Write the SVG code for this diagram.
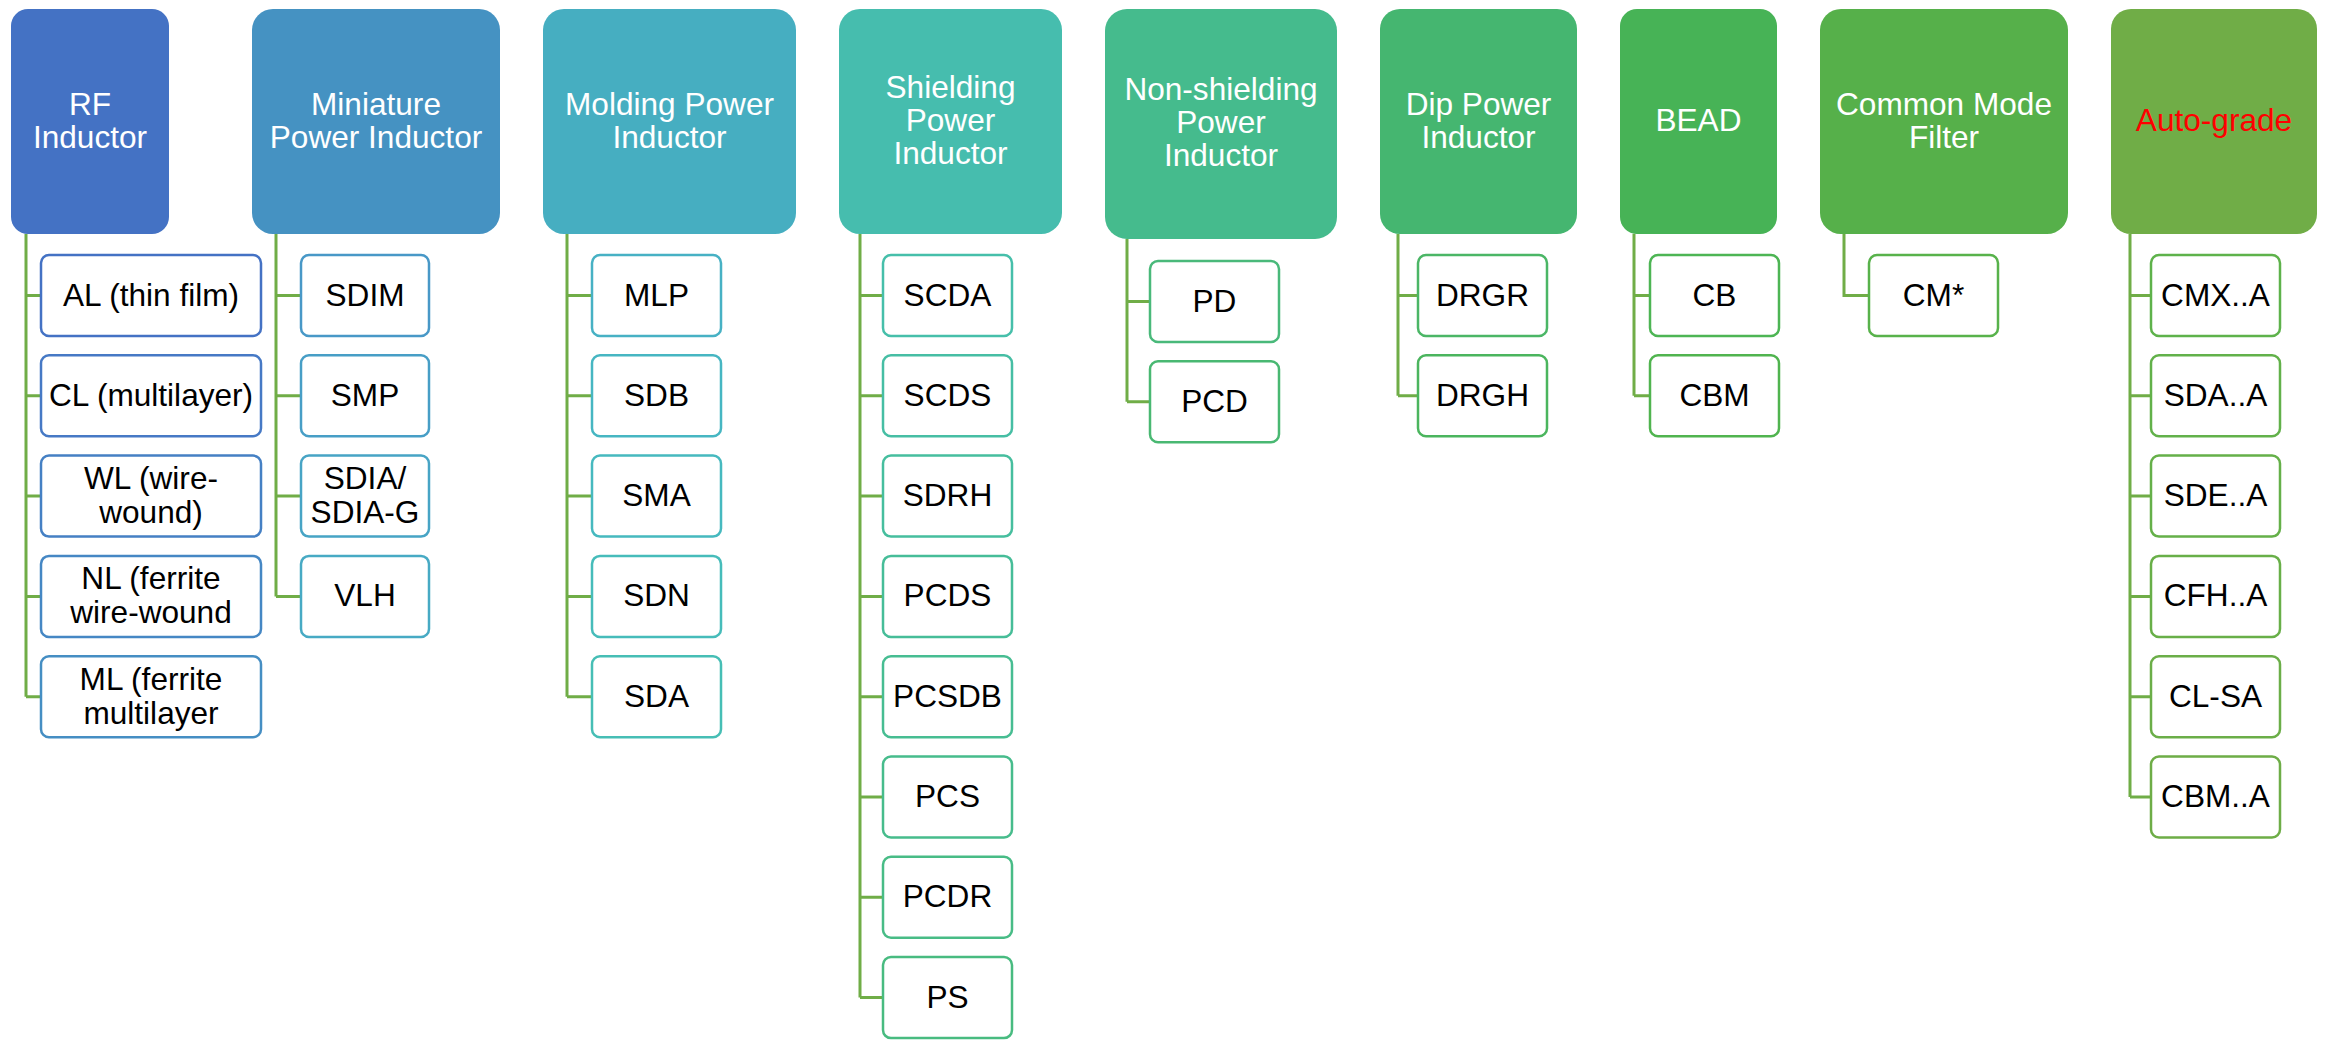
<svg xmlns="http://www.w3.org/2000/svg" width="2331" height="1044" viewBox="0 0 2331 1044">
<style>
.hd text{font-family:"Liberation Sans",Arial,sans-serif;font-size:31.6px;fill:#fff;text-anchor:middle}
.ch rect{fill:#fff;stroke-width:2.5}
.ch text{font-family:"Liberation Sans",Arial,sans-serif;font-size:31.6px;fill:#000;text-anchor:middle}
#connectors path{fill:none;stroke:#70AD47;stroke-width:3}
</style>
<rect width="2331" height="1044" fill="#fff"/>
<g id="connectors">
<path d="M26,234V696.7M26,295.5H41M26,395.8H41M26,496.1H41M26,596.4H41M26,696.7H41"/>
<path d="M276,234V596.4M276,295.5H301M276,395.8H301M276,496.1H301M276,596.4H301"/>
<path d="M567,234V696.7M567,295.5H592M567,395.8H592M567,496.1H592M567,596.4H592M567,696.7H592"/>
<path d="M860,234V997.6M860,295.5H883M860,395.8H883M860,496.1H883M860,596.4H883M860,696.7H883M860,797H883M860,897.3H883M860,997.6H883"/>
<path d="M1127,239V401.8M1127,301.5H1150M1127,401.8H1150"/>
<path d="M1398,234V395.8M1398,295.5H1418M1398,395.8H1418"/>
<path d="M1634,234V395.8M1634,295.5H1650M1634,395.8H1650"/>
<path d="M1844,234V295.5H1869"/>
<path d="M2130,234V797M2130,295.5H2151M2130,395.8H2151M2130,496.1H2151M2130,596.4H2151M2130,696.7H2151M2130,797H2151"/>
</g>

<g id="rf">
<g class="hd"><rect x="11" y="9" width="158" height="225" rx="17" fill="#4472C4"/><text x="90" y="115">RF</text><text x="90" y="148">Inductor</text></g>
<g class="ch" id="rf-al"><rect x="41" y="255" width="220" height="81" rx="8" stroke="#4472C4"/><text x="151" y="305.5">AL (thin film)</text></g>
<g class="ch" id="rf-cl"><rect x="41" y="355.3" width="220" height="81" rx="8" stroke="#4679C5"/><text x="151" y="405.8">CL (multilayer)</text></g>
<g class="ch" id="rf-wl"><rect x="41" y="455.6" width="220" height="81" rx="8" stroke="#4580C4"/><text x="151" y="489">WL (wire-</text><text x="151" y="523">wound)</text></g>
<g class="ch" id="rf-nl"><rect x="41" y="555.9" width="220" height="81" rx="8" stroke="#4587C4"/><text x="151" y="589.4">NL (ferrite</text><text x="151" y="623.4">wire-wound</text></g>
<g class="ch" id="rf-ml"><rect x="41" y="656.2" width="220" height="81" rx="8" stroke="#458EC3"/><text x="151" y="689.7">ML (ferrite</text><text x="151" y="723.7">multilayer</text></g>
</g>

<g id="miniature">
<g class="hd"><rect x="252" y="9" width="248" height="225" rx="21" fill="#4592C2"/><text x="376" y="115">Miniature</text><text x="376" y="148">Power Inductor</text></g>
<g class="ch" id="mi-sdim"><rect x="301" y="255" width="128" height="81" rx="8" stroke="#4898C7"/><text x="365" y="305.5">SDIM</text></g>
<g class="ch" id="mi-smp"><rect x="301" y="355.3" width="128" height="81" rx="8" stroke="#479EC6"/><text x="365" y="405.8">SMP</text></g>
<g class="ch" id="mi-sdia"><rect x="301" y="455.6" width="128" height="81" rx="8" stroke="#47A4C5"/><text x="365" y="489">SDIA/</text><text x="365" y="523">SDIA-G</text></g>
<g class="ch" id="mi-vlh"><rect x="301" y="555.9" width="128" height="81" rx="8" stroke="#47AAC4"/><text x="365" y="606.4">VLH</text></g>
</g>

<g id="molding">
<g class="hd"><rect x="543" y="9" width="253" height="225" rx="21" fill="#46AEC1"/><text x="669.5" y="115">Molding Power</text><text x="669.5" y="148">Inductor</text></g>
<g class="ch" id="mo-mlp"><rect x="592" y="255" width="129" height="81" rx="8" stroke="#47B1C4"/><text x="656.5" y="305.5">MLP</text></g>
<g class="ch" id="mo-sdb"><rect x="592" y="355.3" width="129" height="81" rx="8" stroke="#46B6C2"/><text x="656.5" y="405.8">SDB</text></g>
<g class="ch" id="mo-sma"><rect x="592" y="455.6" width="129" height="81" rx="8" stroke="#46B9BF"/><text x="656.5" y="506.1">SMA</text></g>
<g class="ch" id="mo-sdn"><rect x="592" y="555.9" width="129" height="81" rx="8" stroke="#46BCBA"/><text x="656.5" y="606.4">SDN</text></g>
<g class="ch" id="mo-sda"><rect x="592" y="656.2" width="129" height="81" rx="8" stroke="#46BEB5"/><text x="656.5" y="706.7">SDA</text></g>
</g>

<g id="shielding">
<g class="hd"><rect x="839" y="9" width="223" height="225" rx="21" fill="#46BDAE"/><text x="950.5" y="98">Shielding</text><text x="950.5" y="131">Power</text><text x="950.5" y="164">Inductor</text></g>
<g class="ch" id="sh-scda"><rect x="883" y="255" width="129" height="81" rx="8" stroke="#46BFAA"/><text x="947.5" y="305.5">SCDA</text></g>
<g class="ch" id="sh-scds"><rect x="883" y="355.3" width="129" height="81" rx="8" stroke="#46BEA4"/><text x="947.5" y="405.8">SCDS</text></g>
<g class="ch" id="sh-sdrh"><rect x="883" y="455.6" width="129" height="81" rx="8" stroke="#46BE9E"/><text x="947.5" y="506.1">SDRH</text></g>
<g class="ch" id="sh-pcds"><rect x="883" y="555.9" width="129" height="81" rx="8" stroke="#46BD98"/><text x="947.5" y="606.4">PCDS</text></g>
<g class="ch" id="sh-pcsdb"><rect x="883" y="656.2" width="129" height="81" rx="8" stroke="#47BD92"/><text x="947.5" y="706.7">PCSDB</text></g>
<g class="ch" id="sh-pcs"><rect x="883" y="756.5" width="129" height="81" rx="8" stroke="#47BC8C"/><text x="947.5" y="807">PCS</text></g>
<g class="ch" id="sh-pcdr"><rect x="883" y="856.8" width="129" height="81" rx="8" stroke="#48BC86"/><text x="947.5" y="907.3">PCDR</text></g>
<g class="ch" id="sh-ps"><rect x="883" y="957.1" width="129" height="81" rx="8" stroke="#48BB80"/><text x="947.5" y="1007.6">PS</text></g>
</g>

<g id="nonshielding">
<g class="hd"><rect x="1105" y="9" width="232" height="230" rx="22" fill="#45BB8D"/><text x="1221" y="100">Non-shielding</text><text x="1221" y="133">Power</text><text x="1221" y="166">Inductor</text></g>
<g class="ch" id="ns-pd"><rect x="1150" y="261" width="129" height="81" rx="8" stroke="#49B97A"/><text x="1214.5" y="311.5">PD</text></g>
<g class="ch" id="ns-pcd"><rect x="1150" y="361.3" width="129" height="81" rx="8" stroke="#49B872"/><text x="1214.5" y="411.8">PCD</text></g>
</g>

<g id="dip">
<g class="hd"><rect x="1380" y="9" width="197" height="225" rx="20" fill="#45B670"/><text x="1478.5" y="115">Dip Power</text><text x="1478.5" y="148">Inductor</text></g>
<g class="ch" id="dip-drgr"><rect x="1418" y="255" width="129" height="81" rx="8" stroke="#4BB666"/><text x="1482.5" y="305.5">DRGR</text></g>
<g class="ch" id="dip-drgh"><rect x="1418" y="355.3" width="129" height="81" rx="8" stroke="#4BB55E"/><text x="1482.5" y="405.8">DRGH</text></g>
</g>

<g id="bead">
<g class="hd"><rect x="1620" y="9" width="157" height="225" rx="17" fill="#47B356"/><text x="1698.5" y="131">BEAD</text></g>
<g class="ch" id="bead-cb"><rect x="1650" y="255" width="129" height="81" rx="8" stroke="#4DB554"/><text x="1714.5" y="305.5">CB</text></g>
<g class="ch" id="bead-cbm"><rect x="1650" y="355.3" width="129" height="81" rx="8" stroke="#50B44F"/><text x="1714.5" y="405.8">CBM</text></g>
</g>

<g id="commonmode">
<g class="hd"><rect x="1820" y="9" width="248" height="225" rx="21" fill="#56B04A"/><text x="1944" y="115">Common Mode</text><text x="1944" y="148">Filter</text></g>
<g class="ch" id="cm-cm"><rect x="1869" y="255" width="129" height="81" rx="8" stroke="#58B24B"/><text x="1933.5" y="305.5">CM*</text></g>
</g>

<g id="autograde">
<g class="hd"><rect x="2111" y="9" width="206" height="225" rx="20" fill="#70AD47"/><text x="2214" y="131" style="fill:#FF0000">Auto-grade</text></g>
<g class="ch" id="ag-cmx"><rect x="2151" y="255" width="129" height="81" rx="8" stroke="#5EB24B"/><text x="2215.5" y="305.5">CMX..A</text></g>
<g class="ch" id="ag-sda"><rect x="2151" y="355.3" width="129" height="81" rx="8" stroke="#62B14A"/><text x="2215.5" y="405.8">SDA..A</text></g>
<g class="ch" id="ag-sde"><rect x="2151" y="455.6" width="129" height="81" rx="8" stroke="#65B049"/><text x="2215.5" y="506.1">SDE..A</text></g>
<g class="ch" id="ag-cfh"><rect x="2151" y="555.9" width="129" height="81" rx="8" stroke="#68AF48"/><text x="2215.5" y="606.4">CFH..A</text></g>
<g class="ch" id="ag-clsa"><rect x="2151" y="656.2" width="129" height="81" rx="8" stroke="#6BAE48"/><text x="2215.5" y="706.7">CL-SA</text></g>
<g class="ch" id="ag-cbm"><rect x="2151" y="756.5" width="129" height="81" rx="8" stroke="#6EAD47"/><text x="2215.5" y="807">CBM..A</text></g>
</g>
</svg>
